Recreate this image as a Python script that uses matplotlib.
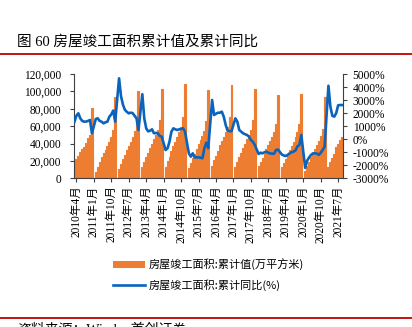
import numpy as np
import pandas as pd
import matplotlib
matplotlib.use('Agg')
import matplotlib.pyplot as plt
from matplotlib.lines import Line2D
from matplotlib.patches import Patch
from matplotlib.ticker import FuncFormatter, MultipleLocator

plt.rcParams['font.family'] = ['Liberation Serif', 'Noto Sans CJK SC']
plt.rcParams['axes.unicode_minus'] = False

nan = np.nan

# 房屋竣工面积:累计值(万平方米), 2010年3月 - 2021年9月, 1月无数据
wc_2010 = [15300, 21900, 25700, 30700, 33400, 36500, 41000, 46000, 50000, 80700]
wc_2011 = [nan, 7600, 13400, 19200, 24200, 28800, 32700, 37300, 42300, 48000, 56000, 94000]
wc_2012 = [nan, 11000, 17000, 22000, 27000, 32500, 37000, 42000, 48000, 54000, 64000, 100500]
wc_2013 = [nan, 13400, 19000, 24000, 29000, 35000, 40000, 45000, 50000, 56000, 67000, 102700]
wc_2014 = [nan, 13400, 20000, 25000, 31000, 37000, 42000, 47000, 53000, 59000, 71000, 108800]
wc_2015 = [nan, 11500, 18000, 23000, 28000, 34000, 39000, 44000, 49000, 55000, 66000, 101500]
wc_2016 = [nan, 14500, 21000, 26000, 31000, 38000, 43000, 48000, 53000, 59000, 70000, 107500]
wc_2017 = [nan, 13000, 19000, 24000, 29000, 35000, 40000, 45000, 50000, 56000, 67000, 103000]
wc_2018 = [nan, 14000, 19000, 23000, 28000, 34000, 38500, 43000, 48000, 53000, 62000, 95300]
wc_2019 = [nan, 12500, 17500, 22000, 26000, 32000, 37000, 42000, 47000, 53000, 62000, 97500]
wc_2020 = [nan, 8000, 14000, 19000, 24000, 29000, 34000, 38500, 43000, 49000, 57000, 93000]
wc_2021 = [nan, 12500, 19000, 23000, 27500, 36000, 40000, 44000, 48000]

# 房屋竣工面积:累计同比(%)
tb_2010 = [1343, 1800, 1985, 1600, 1400, 1343, 1350, 1400, 1472, 450]
tb_2011 = [nan, 1550, 1600, 1400, 1343, 1215, 1300, 1343, 1727, 1900, 2200, 1343]
tb_2012 = [nan, 4670, 3300, 2650, 2250, 2100, 1985, 2035, 2000, 1800, 1600, 705]
tb_2013 = [nan, 3450, 1600, 834, 600, 650, 757, 452, 480, 450, 250, 200]
tb_2014 = [nan, -830, -700, -190, 575, 834, 760, 705, 757, 780, 834, 590]
tb_2015 = [nan, -1085, -1340, -1085, -1400, -1390, -1390, -1420, -1465, -700, -270, -690]
tb_2016 = [nan, 3006, 1855, 1950, 2030, 2030, 2110, 1727, 1090, 650, 620, 610]
tb_2017 = [nan, 1600, 1343, 705, 575, 450, 380, 320, 200, -60, -200, -440]
tb_2018 = [nan, -1135, -1035, -1085, -1000, -960, -1050, -1085, -1120, -1100, -830, -800]
tb_2019 = [nan, -1180, -1250, -1290, -1200, -1085, -1000, -960, -860, -550, -450, 320]
tb_2020 = [nan, -2200, -1650, -1400, -1210, -1085, -1085, -1100, -1200, -1050, -830, -600]
tb_2021 = [nan, 4100, 2500, 1800, 1730, 2000, 2600, 2620, 2620]

tick_labels = ['2010年4月', '2011年1月', '2011年10月', '2012年7月', '2013年4月', '2014年1月',
               '2014年10月', '2015年7月', '2016年4月', '2017年1月', '2017年10月', '2018年7月',
               '2019年4月', '2020年1月', '2020年10月', '2021年7月']

periods = pd.period_range('2010-03', '2021-09', freq='M')
month_labels = [f'{p.year}年{p.month}月' for p in periods]

wancheng = np.array(wc_2010 + wc_2011 + wc_2012 + wc_2013 + wc_2014 + wc_2015 +
                    wc_2016 + wc_2017 + wc_2018 + wc_2019 + wc_2020 + wc_2021, dtype=float)
tongbi = np.array(tb_2010 + tb_2011 + tb_2012 + tb_2013 + tb_2014 + tb_2015 +
                  tb_2016 + tb_2017 + tb_2018 + tb_2019 + tb_2020 + tb_2021, dtype=float)
x = np.arange(len(month_labels))

fig = plt.figure(figsize=(4.12, 3.27), dpi=100)
ax = fig.add_axes([0.1784, 0.4547, 0.8325 - 0.1784, 0.7737 - 0.4547])
ax2 = ax.twinx()

naranja = '#ED7D31'
azul = '#0A64BE'

# barras sin huecos entre meses (solo enero queda vacio)
hay = ~np.isnan(wancheng)
ax.bar(x[hay], wancheng[hay], width=1.0, color=naranja, edgecolor=naranja, linewidth=0.8, zorder=1)
ok = ~np.isnan(tongbi)
ax2.plot(x[ok], tongbi[ok], color=azul, lw=1.9, zorder=3)

ax.set_xlim(-0.5, len(x) - 0.5)
ax.set_ylim(0, 120000)
ax2.set_ylim(-3000, 5000)
ax.yaxis.set_major_locator(MultipleLocator(20000))
ax2.yaxis.set_major_locator(MultipleLocator(1000))
ax.yaxis.set_major_formatter(FuncFormatter(lambda v, p: f'{v:,.0f}'))
ax2.yaxis.set_major_formatter(FuncFormatter(lambda v, p: f'{v:.0f}%'))

ax.set_xticks([month_labels.index(t) for t in tick_labels])
ax.set_xticklabels(tick_labels, rotation=90, fontsize=8.3)

for a in (ax, ax2):
    a.spines['top'].set_visible(False)
    for s in a.spines.values():
        s.set_color('#404040')
        s.set_linewidth(0.8)
ax.spines['right'].set_visible(False)
ax2.spines['left'].set_visible(False)
ax2.spines['bottom'].set_visible(False)

ax.tick_params(axis='y', length=3, width=0.8, pad=6, labelsize=8.3, colors='#404040', labelcolor='black')
ax.tick_params(axis='x', length=3, width=0.8, pad=2, colors='#404040', labelcolor='black')
ax2.tick_params(axis='y', length=3, width=0.8, pad=4, labelsize=8.3, colors='#404040', labelcolor='black')

# titulo y lineas rojas
fig.text(0.041, 0.8716, '图 60 房屋竣工面积累计值及累计同比', fontsize=10.5, va='center', ha='left')
fig.add_artist(Line2D([0, 1], [0.8349, 0.8349], transform=fig.transFigure, color='#C00000', lw=1.3))
fig.add_artist(Line2D([0, 1], [0.0266, 0.0266], transform=fig.transFigure, color='#C00000', lw=1.3))
fig.text(0.041, 0.0153, '资料来源：Wind，首创证券', fontsize=10, va='top', ha='left')

handles = [Patch(facecolor=naranja, edgecolor='none'), Line2D([], [], color=azul, lw=1.9)]
etiquetas = ['房屋竣工面积:累计值(万平方米)', '房屋竣工面积:累计同比(%)']
fig.legend(handles, etiquetas, loc='upper left', bbox_to_anchor=(0.2735, 0.2095),
           frameon=False, borderpad=0, borderaxespad=0, handlelength=2.9, handleheight=0.6,
           handletextpad=0.3, labelspacing=0.8,
           prop={'family': ['Noto Sans CJK SC'], 'size': 8})

fig.savefig('out.png', dpi=100)
